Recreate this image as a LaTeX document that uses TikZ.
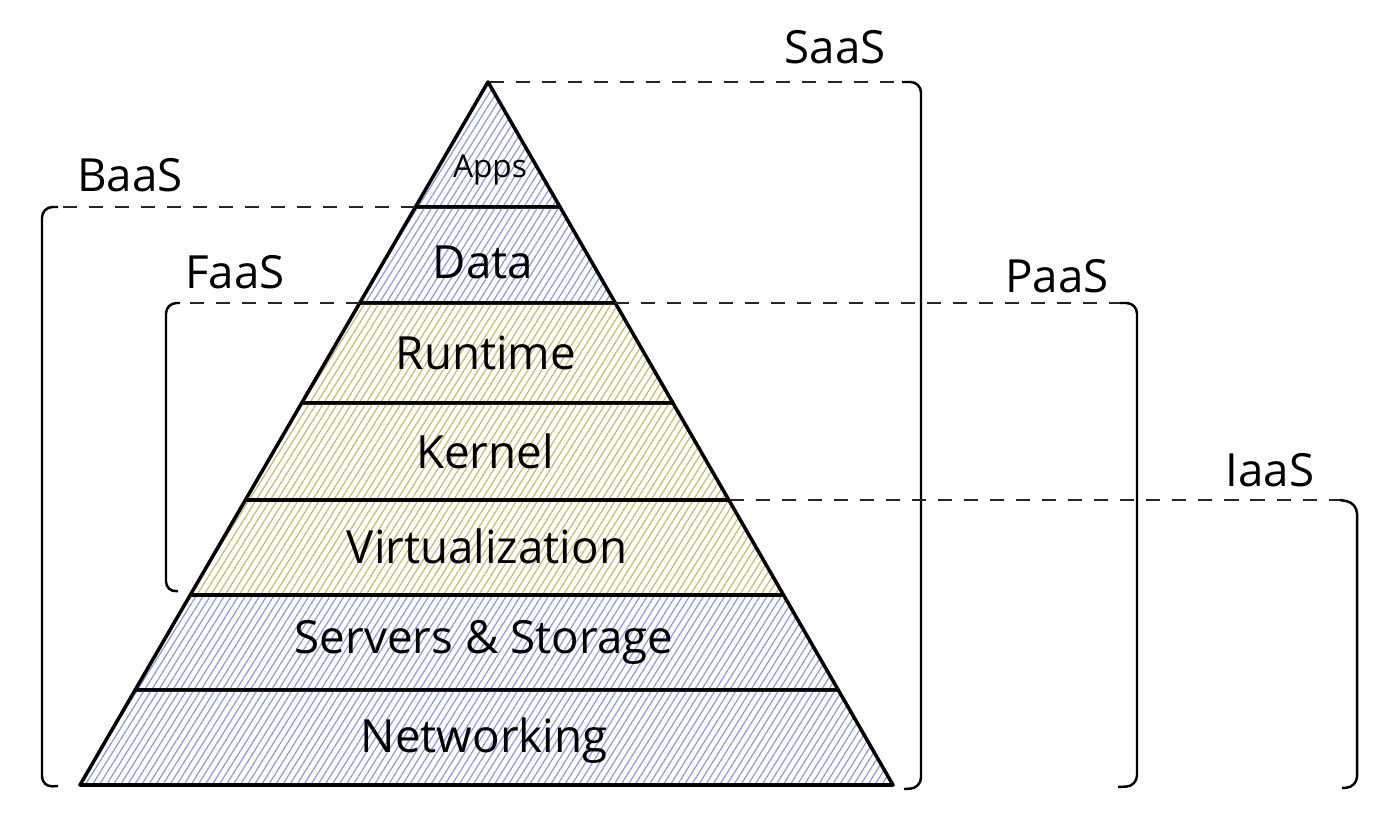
\documentclass[tikz,border=0pt]{standalone}
\usepackage{fontspec}
\setmainfont{Open Sans}
\usetikzlibrary{calc,patterns.meta}
\definecolor{hatchblue}{RGB}{140,155,220}
\definecolor{hatchkhaki}{RGB}{200,186,112}
\begin{document}
\begin{tikzpicture}[x=0.01cm,y=-0.01cm]
    \tikzstyle{layer}=[draw=black, line width=1pt, line join=round]
    \tikzstyle{bluelayer}=[layer, pattern={Lines[angle=58,distance=1.7pt,line width=0.35pt]}, pattern color=hatchblue]
    \tikzstyle{khakilayer}=[layer, pattern={Lines[angle=58,distance=1.7pt,line width=0.35pt]}, pattern color=hatchkhaki]
    \tikzstyle{layername}=[font=\fontsize{13}{15}\selectfont]
    \tikzstyle{tier}=[font=\fontsize{13}{15}\selectfont]
    \tikzstyle{span}=[line width=0.7pt, dash pattern=on 4pt off 3.4pt, black!85]
    \tikzstyle{brace}=[line width=0.7pt, rounded corners=3pt]
    \useasboundingbox (0,0) rectangle (1400,831);
    \coordinate (top) at (488,82);
    \coordinate (bl) at (80,785);
    \coordinate (br) at (893,785);
    % pyramid layers, top to bottom
    \foreach \ya/\yb/\sty in {82/207/bluelayer, 207/303/bluelayer, 303/403/khakilayer,
        403/500/khakilayer, 500/595/khakilayer, 595/690/bluelayer, 690/785/bluelayer} {
        \pgfmathsetmacro{\ta}{(\ya-82)/703}
        \pgfmathsetmacro{\tb}{(\yb-82)/703}
        \draw[\sty] ($(top)!\ta!(bl)$) -- ($(top)!\ta!(br)$) -- ($(top)!\tb!(br)$) -- ($(top)!\tb!(bl)$) -- cycle;
    }
    \node[layername, font=\fontsize{9}{11}\selectfont] (apps) at (490,170) {Apps};
    \node[layername] (data) at (483,262) {Data};
    \node[layername] (runtime) at (486,353) {Runtime};
    \node[layername] (kernel) at (485,451) {Kernel};
    \node[layername] (virt) at (487,546) {Virtualization};
    \node[layername] (servers) at (484,642) {Servers \& Storage};
    \node[layername] (net) at (484,741) {Networking};
    % service tiers
    \node[tier] (saas) at (835,47) {SaaS};
    \node[tier] (baas) at (130,175) {BaaS};
    \node[tier] (faas) at (235,272) {FaaS};
    \node[tier] (paas) at (1057,276) {PaaS};
    \node[tier] (iaas) at (1270,470) {IaaS};
    \coordinate (saasA) at (490,82);   \coordinate (saasB) at (902,82);
    \coordinate (baasA) at (415,207);  \coordinate (baasB) at (58,207);
    \coordinate (faasA) at (360,303);  \coordinate (faasB) at (180,303);
    \coordinate (paasA) at (615,303);  \coordinate (paasB) at (1120,303);
    \coordinate (iaasA) at (730,500);  \coordinate (iaasB) at (1340,500);
    \draw[span] (saasA) -- (saasB);
    \draw[brace] (saasB) -- (921,82) -- (921,788) -- (904,789);
    \draw[span] (baasA) -- (baasB);
    \draw[brace] (baasB) -- (42,207) -- (42,787) -- (58,786);
    \draw[span] (faasA) -- (faasB);
    \draw[brace] (faasB) -- (166,303) -- (166,592) -- (178,591);
    \draw[span] (paasA) -- (paasB);
    \draw[brace] (paasB) -- (1137,303) -- (1137,786) -- (1118,787);
    \draw[span] (iaasA) -- (iaasB);
    \draw[brace] (iaasB) -- (1357,503) -- (1357,787) -- (1342,788);
\end{tikzpicture}
\end{document}
